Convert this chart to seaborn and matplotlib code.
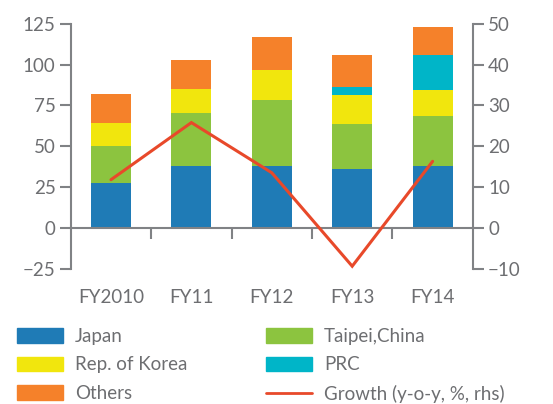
import matplotlib
matplotlib.use("Agg")
import matplotlib.pyplot as plt
import matplotlib.patches as mpatches
import matplotlib.lines as mlines
import numpy as np
import pandas as pd
import seaborn as sns

# valores
years = ["FY2010", "FY11", "FY12", "FY13", "FY14"]
japan = [27.6, 37.6, 38.0, 36.2, 38.0]
taipei = [22.6, 32.9, 40.6, 27.5, 30.6]
korea = [13.9, 14.7, 18.4, 17.8, 15.8]
prc = [0.0, 0.0, 0.0, 4.7, 21.2]
others = [17.8, 17.7, 19.8, 19.6, 17.4]
growth = [11.8, 25.8, 13.5, -9.4, 16.3]

series = ["Japan", "Taipei,China", "Rep. of Korea", "PRC", "Others"]
colors = {"Japan": "#1f7bb6", "Taipei,China": "#8cc43f", "Rep. of Korea": "#f1e60d",
          "PRC": "#00b5c8", "Others": "#f5812a"}
line_color = "#e8492a"
grey = "#808285"
text_grey = "#6d6e71"

sns.set_theme(style="white")
plt.rcParams["font.family"] = ["Lato", "DejaVu Sans"]
plt.rcParams["text.color"] = text_grey

df = pd.DataFrame({"year": years, "Japan": japan, "Taipei,China": taipei,
                   "Rep. of Korea": korea, "PRC": prc, "Others": others})
cum = df[series].cumsum(axis=1)

fig = plt.figure(figsize=(5.53, 4.04), dpi=100)
ax = fig.add_axes([0.128, 0.335, 0.727, 0.606])

# barras apiladas: dibujar de arriba hacia abajo
for name in reversed(series):
    sns.barplot(x=df["year"], y=cum[name], color=colors[name], width=0.5,
                saturation=1, linewidth=0, ax=ax, zorder=2)

ax.set_ylim(-25, 125)
ax.set_xlim(-0.5, 4.5)
ax.set_yticks([-25, 0, 25, 50, 75, 100, 125])
ax.set_yticklabels(["\u221225", "0", "25", "50", "75", "100", "125"])
ax.set_xlabel("")
ax.set_ylabel("")

ax2 = ax.twinx()
ax2.plot(range(len(years)), growth, color=line_color, lw=2.2, zorder=5,
         solid_joinstyle="miter")
ax2.set_ylim(-10, 50)
ax2.set_yticks([-10, 0, 10, 20, 30, 40, 50])
ax2.set_yticklabels(["\u221210", "0", "10", "20", "30", "40", "50"])

for a in (ax, ax2):
    for s in a.spines.values():
        s.set_color(grey)
        s.set_linewidth(1.5)
    a.spines["top"].set_visible(False)

ax.spines["right"].set_visible(False)
ax2.spines["left"].set_visible(False)
ax2.spines["bottom"].set_visible(False)
ax.spines["bottom"].set_position(("data", 0))

ax.tick_params(axis="y", direction="out", length=8, width=1.5, color=grey,
               labelsize=13.5, labelcolor=text_grey, pad=3, left=True)
ax2.tick_params(axis="y", direction="out", length=8, width=1.5, color=grey,
                labelsize=13.5, labelcolor=text_grey, pad=3, right=True)
ax.tick_params(axis="x", which="major", length=0, labelsize=13.5,
               labelcolor=text_grey, pad=44, bottom=True)
ax.set_xticks([0.5, 1.5, 2.5, 3.5], minor=True)
ax.tick_params(axis="x", which="minor", direction="out", length=8, width=1.5,
               color=grey, bottom=True)
ax.set_zorder(ax2.get_zorder() - 1)
ax2.patch.set_visible(False)

# leyenda en dos columnas
col1 = [mpatches.Patch(color=colors["Japan"], label="Japan"),
        mpatches.Patch(color=colors["Rep. of Korea"], label="Rep. of Korea"),
        mpatches.Patch(color=colors["Others"], label="Others")]
col2 = [mpatches.Patch(color=colors["Taipei,China"], label="Taipei,China"),
        mpatches.Patch(color=colors["PRC"], label="PRC"),
        mlines.Line2D([], [], color=line_color, lw=2, label="Growth (y-o-y, %, rhs)")]
for handles, xpos in ((col1, 0.018), (col2, 0.468)):
    fig.legend(handles=handles, loc="upper left", bbox_to_anchor=(xpos, 0.207),
               frameon=False, fontsize=13.5, labelspacing=0.62, handlelength=2.45,
               handleheight=0.8, handletextpad=0.62, borderaxespad=0,
               labelcolor=text_grey)

fig.savefig("out.png", dpi=100)
